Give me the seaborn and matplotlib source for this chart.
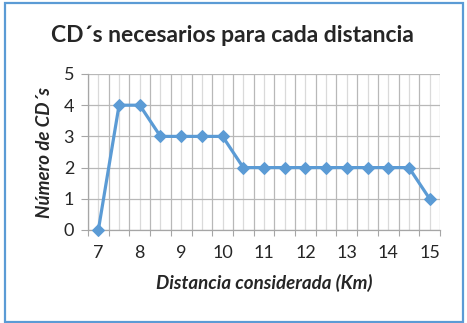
import matplotlib
matplotlib.use("Agg")
import matplotlib.pyplot as plt
import matplotlib.patches as mpatches
import seaborn as sns
import pandas as pd
import numpy as np

# Data
distancias = [7, 7.5, 8, 8.5, 9, 9.5, 10, 10.5, 11, 11.5, 12, 12.5, 13, 13.5, 14, 14.5, 15]
num_cds = [0, 4, 4, 3, 3, 3, 3, 2, 2, 2, 2, 2, 2, 2, 2, 2, 1]
x_labels = ["7", "", "8", "", "9", "", "10", "", "11", "", "12", "", "13", "", "14", "", "15"]
y_ticks = [0, 1, 2, 3, 4, 5]

title = "CD´s necesarios para cada distancia"
xlabel = "Distancia considerada (Km)"
ylabel = "Número de CD´s"

sns.set_theme(style="white")
plt.rcParams['font.family'] = ['Lato', 'DejaVu Sans']

df = pd.DataFrame({"Distancia": distancias, "CDs": num_cds})

fig = plt.figure(figsize=(4.67, 3.23), dpi=100)
ax = fig.add_axes([88/467, 1-230/323, (440-88)/467, (230-74)/323])

blue = "#5b9bd5"
sns.lineplot(data=df, x="Distancia", y="CDs", ax=ax, color=blue, linewidth=2.3,
             marker="D", markersize=6.5, markeredgecolor=blue, zorder=5, clip_on=False)

ax.set_xlim(6.75, 15.25)
ax.set_ylim(0, 5)

# major ticks at category boundaries, minor at centers
bounds = [d - 0.25 for d in distancias] + [distancias[-1] + 0.25]
ax.set_xticks(bounds)
ax.set_xticklabels([])
ax.set_xticks(distancias, minor=True)
ax.set_xticklabels(x_labels, minor=True)
ax.tick_params(axis="x", which="major", length=4, width=0.8, color="#a6a6a6", direction="out", bottom=True)
ax.tick_params(axis="x", which="minor", length=0, pad=11, labelsize=13)
ax.set_yticks(y_ticks)
ax.tick_params(axis="y", length=5, width=0.8, color="#a6a6a6", direction="out", left=True, labelsize=13, pad=5)

ax.grid(True, which="major", axis="both", color="#b8b8b8", linewidth=0.9)
ax.grid(True, which="minor", axis="x", color="#dadada", linewidth=0.9)
ax.set_axisbelow(True)

for s in ["top", "right"]:
    ax.spines[s].set_visible(False)
for s in ["left", "bottom"]:
    ax.spines[s].set_color("#a6a6a6")
    ax.spines[s].set_linewidth(0.9)

ax.set_xlabel(xlabel, fontsize=13.5, fontweight="bold", fontstyle="italic", labelpad=9)
ax.set_ylabel(ylabel, fontsize=13.5, fontweight="bold", fontstyle="italic", labelpad=8)
fig.text(232/467, 1-36/323, title, ha="center", va="center", fontsize=16.5, fontweight="bold")

border = mpatches.Rectangle((5/467, 1/323), 458/467, 319/323, transform=fig.transFigure,
                            fill=False, edgecolor=blue, linewidth=1.6)
fig.patches.append(border)

fig.savefig("out.png", dpi=100)
